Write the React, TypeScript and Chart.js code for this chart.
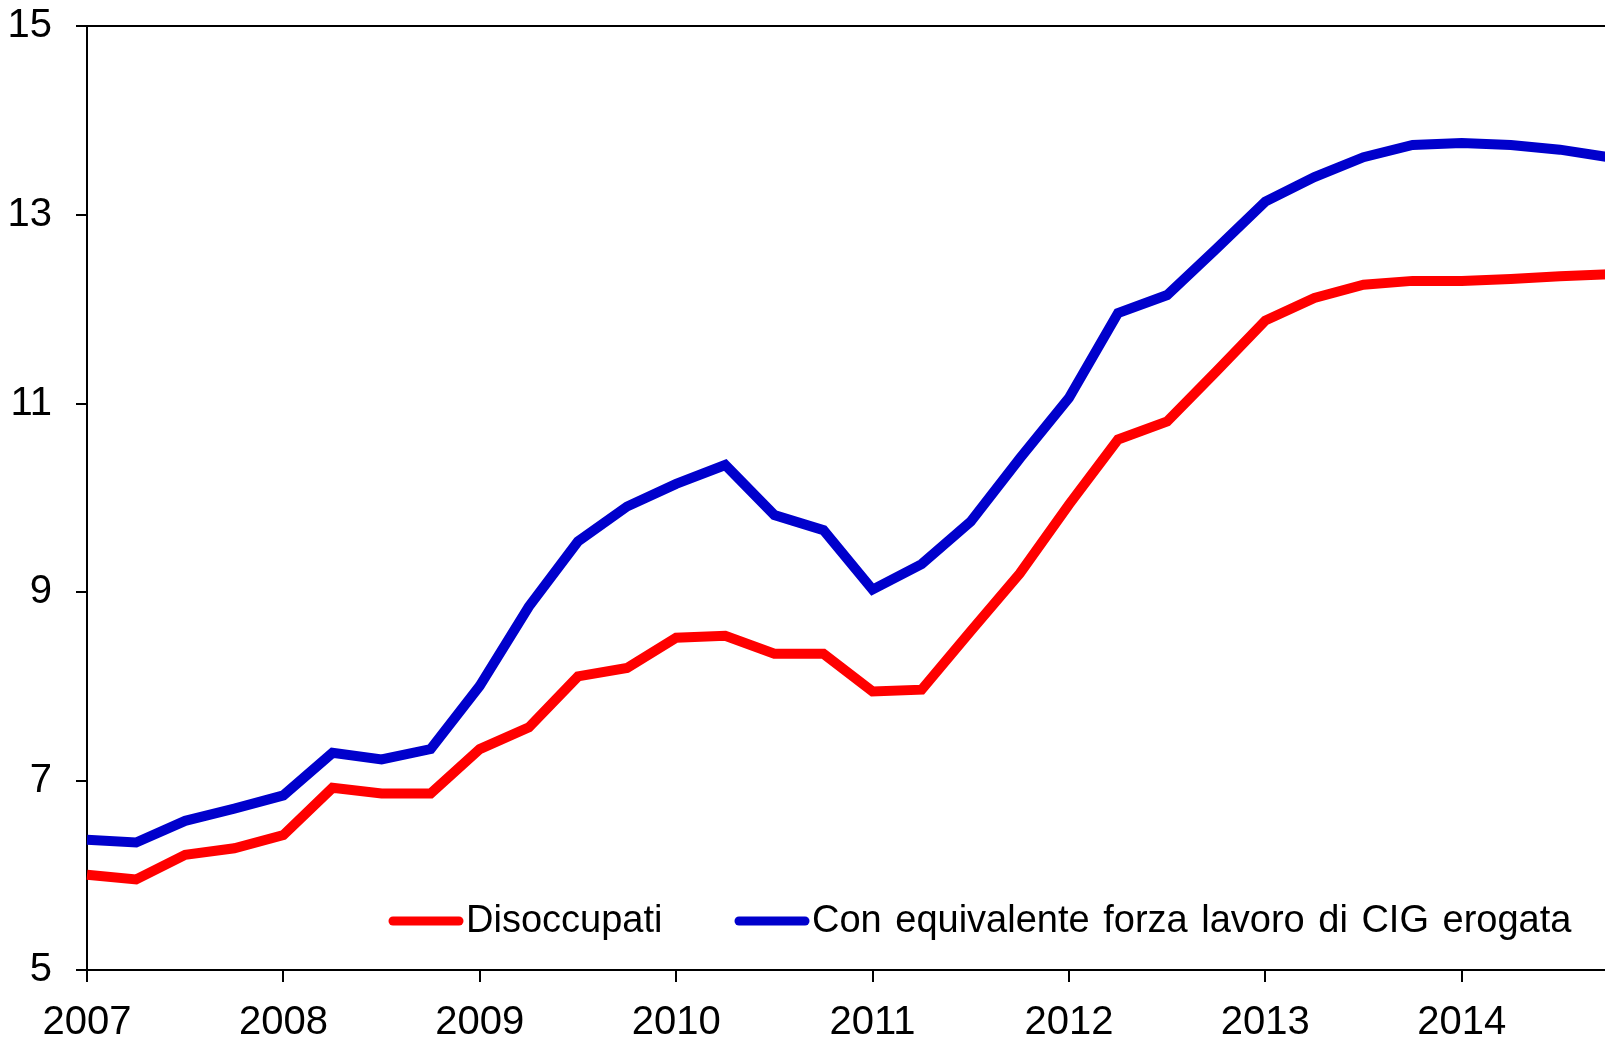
import React, { useEffect, useRef } from "react";
import { Chart, registerables } from "chart.js";

Chart.register(...registerables);

const quarters: number[] = [
  2007, 2007.25, 2007.5, 2007.75,
  2008, 2008.25, 2008.5, 2008.75,
  2009, 2009.25, 2009.5, 2009.75,
  2010, 2010.25, 2010.5, 2010.75,
  2011, 2011.25, 2011.5, 2011.75,
  2012, 2012.25, 2012.5, 2012.75,
  2013, 2013.25, 2013.5, 2013.75,
  2014, 2014.25, 2014.5, 2014.75,
];

const disoccupati: number[] = [
  6.01, 5.96, 6.22, 6.29,
  6.43, 6.93, 6.87, 6.87,
  7.34, 7.57, 8.11, 8.2,
  8.52, 8.54, 8.35, 8.35,
  7.95, 7.97, 8.59, 9.2,
  9.93, 10.62, 10.81, 11.34,
  11.88, 12.12, 12.26, 12.3,
  12.3, 12.32, 12.35, 12.37,
];

const conCig: number[] = [
  6.38, 6.35, 6.58, 6.71,
  6.85, 7.3, 7.23, 7.34,
  8.01, 8.85, 9.54, 9.91,
  10.15, 10.35, 9.82, 9.66,
  9.03, 9.3, 9.75, 10.42,
  11.06, 11.96, 12.15, 12.64,
  13.14, 13.4, 13.61, 13.74,
  13.76, 13.74, 13.69, 13.61,
];

const seriesLabels: string[] = [
  "Disoccupati",
  "Con equivalente forza lavoro di CIG erogata",
];
const seriesColors: string[] = ["#FF0000", "#0000CC"];

const yTicks: number[] = [5, 7, 9, 11, 13, 15];
const xYears: number[] = [2007, 2008, 2009, 2010, 2011, 2012, 2013, 2014];

const FONT = "'Liberation Sans', Arial, Helvetica, sans-serif";

const frameAndLegend = {
  id: "frameAndLegend",
  afterDraw(chart: any) {
    const { ctx, chartArea } = chart;
    ctx.save();
    // top border
    ctx.strokeStyle = "#000";
    ctx.lineWidth = 2;
    ctx.beginPath();
    ctx.moveTo(chartArea.left - 11, chartArea.top);
    ctx.lineTo(chartArea.right + 20, chartArea.top);
    ctx.stroke();

    // legend
    const ly = chartArea.bottom - 49;
    const starts = [chartArea.left + 302, chartArea.left + 648];
    ctx.font = `38px ${FONT}`;
    ctx.textBaseline = "middle";
    ctx.textAlign = "left";
    try {
      (ctx as any).wordSpacing = "3px";
    } catch (e) {}
    chart.data.datasets.forEach((ds: any, i: number) => {
      const x0 = starts[i];
      ctx.strokeStyle = ds.borderColor;
      ctx.lineWidth = 9;
      ctx.lineCap = "round";
      ctx.beginPath();
      ctx.moveTo(x0 + 4, ly);
      ctx.lineTo(x0 + 70, ly);
      ctx.stroke();
      ctx.fillStyle = "#000";
      ctx.fillText(ds.label, x0 + 77, ly + 1);
    });
    ctx.restore();
  },
};

export default function App() {
  const ref = useRef<HTMLCanvasElement | null>(null);

  useEffect(() => {
    if (!ref.current) return;
    const datasets = [disoccupati, conCig].map((vals, i) => ({
      label: seriesLabels[i],
      data: vals.map((v, j) => ({ x: quarters[j], y: v })),
      borderColor: seriesColors[i],
      backgroundColor: seriesColors[i],
      borderWidth: 10,
      pointRadius: 0,
      tension: 0,
      borderJoinStyle: "miter" as const,
      borderCapStyle: "butt" as const,
      clip: false as any,
    }));
    const chart = new Chart(ref.current, {
      type: "line",
      data: { datasets },
      plugins: [frameAndLegend],
      options: {
        animation: false,
        responsive: false,
        devicePixelRatio: 1,
        layout: { padding: { top: 26, right: 11, left: 0, bottom: 0 } },
        plugins: {
          legend: { display: false },
          tooltip: { enabled: false },
        },
        scales: {
          x: {
            type: "linear",
            min: 2007,
            max: 2014.75,
            afterBuildTicks: (scale: any) => {
              scale.ticks = xYears.map((v) => ({ value: v }));
            },
            afterFit: (scale: any) => {
              scale.height = 67;
              scale.paddingLeft = 0;
              scale.paddingRight = 0;
            },
            ticks: {
              color: "#000",
              font: { family: FONT, size: 40 },
              padding: 17,
              maxRotation: 0,
              autoSkip: false,
              callback: (v: any) => String(v),
            },
            grid: {
              display: true,
              drawOnChartArea: false,
              drawTicks: true,
              tickLength: 12,
              color: "#000",
              lineWidth: 2,
            },
            border: { display: true, color: "#000", width: 2 },
          },
          y: {
            type: "linear",
            min: 5,
            max: 15,
            afterBuildTicks: (scale: any) => {
              scale.ticks = yTicks.map((v) => ({ value: v }));
            },
            afterFit: (scale: any) => {
              scale.width = 87;
              scale.paddingTop = 0;
              scale.paddingBottom = 0;
            },
            ticks: {
              color: "#000",
              font: { family: FONT, size: 40 },
              padding: 24,
              callback: (v: any) => String(v),
            },
            grid: {
              display: true,
              drawOnChartArea: false,
              drawTicks: true,
              tickLength: 11,
              color: "#000",
              lineWidth: 2,
            },
            border: { display: true, color: "#000", width: 2 },
          },
        },
      },
    });
    return () => chart.destroy();
  }, []);

  return (
    <div
      style={{
        position: "absolute",
        left: 0,
        top: 0,
        width: 1605,
        height: 1037,
        overflow: "hidden",
        background: "#fff",
      }}
    >
      <canvas
        ref={ref}
        width={1620}
        height={1037}
        style={{ position: "absolute", left: 0, top: 0, width: 1620, height: 1037 }}
      />
    </div>
  );
}
